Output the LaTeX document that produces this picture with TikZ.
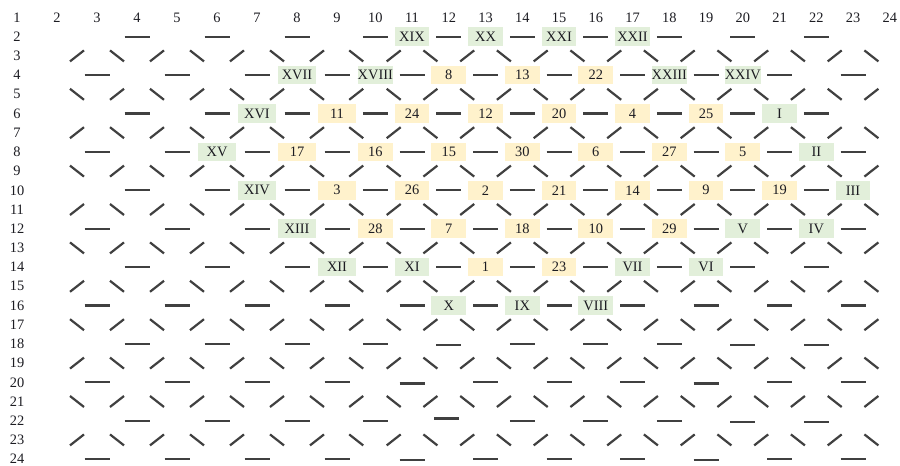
\documentclass[tikz,border=0pt]{standalone}
\usepackage{fontspec}
\setmainfont{Liberation Serif}
\usepackage{tikz}

\begin{document}
\begin{tikzpicture}[x=.5pt,y=-.5pt,
  lbl/.style={inner sep=0pt,outer sep=0pt,anchor=center,text={rgb,255:red,28;green,28;blue,34},font=\fontsize{7.2}{8.6}\selectfont},
  gcell/.style={lbl,fill={rgb,255:red,226;green,239;blue,218},minimum width=17.4pt,minimum height=9.3pt},
  ycell/.style={lbl,fill={rgb,255:red,255;green,242;blue,204},minimum width=17.4pt,minimum height=9.3pt},
  wide/.style={minimum width=19pt},
  glyph/.style={draw={rgb,255:red,64;green,64;blue,64},line width=1.1pt},
  bar/.pic={\draw[glyph] (-12.5,0) -- (12.5,0);},
  fwd/.pic={\draw[glyph] (-7,5.5) -- (7,-5.5);},
  bwd/.pic={\draw[glyph] (-7,-5.5) -- (7,5.5);}]
\path[use as bounding box] (0,0) rectangle (900,466);
\path[fill=white,draw=none] (0,0) rectangle (900,466);
\node[lbl] (h1) at (17,17.5) {1};
\node[lbl] (h2) at (57,17.5) {2};
\node[lbl] (h3) at (97,17.5) {3};
\node[lbl] (h4) at (137,17.5) {4};
\node[lbl] (h5) at (177,17.5) {5};
\node[lbl] (h6) at (217,17.5) {6};
\node[lbl] (h7) at (257,17.5) {7};
\node[lbl] (h8) at (297,17.5) {8};
\node[lbl] (h9) at (337,17.5) {9};
\node[lbl] (h10) at (375.3,17.5) {10};
\node[lbl] (h11) at (412,17.5) {11};
\node[lbl] (h12) at (448.8,17.5) {12};
\node[lbl] (h13) at (485.5,17.5) {13};
\node[lbl] (h14) at (522.3,17.5) {14};
\node[lbl] (h15) at (559,17.5) {15};
\node[lbl] (h16) at (595.8,17.5) {16};
\node[lbl] (h17) at (632.5,17.5) {17};
\node[lbl] (h18) at (669.3,17.5) {18};
\node[lbl] (h19) at (706,17.5) {19};
\node[lbl] (h20) at (742.8,17.5) {20};
\node[lbl] (h21) at (779.5,17.5) {21};
\node[lbl] (h22) at (816.3,17.5) {22};
\node[lbl] (h23) at (853,17.5) {23};
\node[lbl] (h24) at (889.8,17.5) {24};
\node[lbl] (v2) at (17,36.7) {2};
\node[lbl] (v3) at (17,55.9) {3};
\node[lbl] (v4) at (17,75.1) {4};
\node[lbl] (v5) at (17,94.3) {5};
\node[lbl] (v6) at (17,113.5) {6};
\node[lbl] (v7) at (17,132.7) {7};
\node[lbl] (v8) at (17,151.9) {8};
\node[lbl] (v9) at (17,171.1) {9};
\node[lbl] (v10) at (17,190.3) {10};
\node[lbl] (v11) at (17,209.5) {11};
\node[lbl] (v12) at (17,228.7) {12};
\node[lbl] (v13) at (17,247.9) {13};
\node[lbl] (v14) at (17,267.1) {14};
\node[lbl] (v15) at (17,286.3) {15};
\node[lbl] (v16) at (17,305.5) {16};
\node[lbl] (v17) at (17,324.7) {17};
\node[lbl] (v18) at (17,343.9) {18};
\node[lbl] (v19) at (17,363.1) {19};
\node[lbl] (v20) at (17,382.3) {20};
\node[lbl] (v21) at (17,401.5) {21};
\node[lbl] (v22) at (17,420.7) {22};
\node[lbl] (v23) at (17,439.9) {23};
\node[lbl] (v24) at (17,459.1) {24};
\path (137,36.7) pic{bar} (217,36.7) pic{bar} (297,36.7) pic{bar} (375.3,36.7) pic{bar} (448.8,36.7) pic{bar} (522.3,36.7) pic{bar} (595.8,36.7) pic{bar} (669.3,36.7) pic{bar} (742.8,36.7) pic{bar} (816.3,36.7) pic{bar};
\path (77,55.9) pic{fwd} (117,55.9) pic{bwd} (157,55.9) pic{fwd} (197,55.9) pic{bwd} (237,55.9) pic{fwd} (277,55.9) pic{bwd} (317,55.9) pic{fwd} (356.2,55.9) pic{bwd} (393.7,55.9) pic{fwd} (430.4,55.9) pic{bwd} (467.2,55.9) pic{fwd} (503.9,55.9) pic{bwd} (540.7,55.9) pic{fwd} (577.4,55.9) pic{bwd} (614.2,55.9) pic{fwd} (650.9,55.9) pic{bwd} (687.7,55.9) pic{fwd} (724.4,55.9) pic{bwd} (761.2,55.9) pic{fwd} (797.9,55.9) pic{bwd} (834.7,55.9) pic{fwd} (871.4,55.9) pic{bwd};
\path (97,75.1) pic{bar} (177,75.1) pic{bar} (257,75.1) pic{bar} (337,75.1) pic{bar} (412,75.1) pic{bar} (485.5,75.1) pic{bar} (559,75.1) pic{bar} (632.5,75.1) pic{bar} (706,75.1) pic{bar} (779.5,75.1) pic{bar} (853,75.1) pic{bar};
\path (77,94.3) pic{bwd} (117,94.3) pic{fwd} (157,94.3) pic{bwd} (197,94.3) pic{fwd} (237,94.3) pic{bwd} (277,94.3) pic{fwd} (317,94.3) pic{bwd} (356.2,94.3) pic{fwd} (393.7,94.3) pic{bwd} (430.4,94.3) pic{fwd} (467.2,94.3) pic{bwd} (503.9,94.3) pic{fwd} (540.7,94.3) pic{bwd} (577.4,94.3) pic{fwd} (614.2,94.3) pic{bwd} (650.9,94.3) pic{fwd} (687.7,94.3) pic{bwd} (724.4,94.3) pic{fwd} (761.2,94.3) pic{bwd} (797.9,94.3) pic{fwd} (834.7,94.3) pic{bwd} (871.4,94.3) pic{fwd};
\path (137,113.5) pic{bar} (217,113.5) pic{bar} (297,113.5) pic{bar} (375.3,113.5) pic{bar} (448.8,113.5) pic{bar} (522.3,113.5) pic{bar} (595.8,113.5) pic{bar} (669.3,113.5) pic{bar} (742.8,113.5) pic{bar} (816.3,113.5) pic{bar};
\path (77,132.7) pic{fwd} (117,132.7) pic{bwd} (157,132.7) pic{fwd} (197,132.7) pic{bwd} (237,132.7) pic{fwd} (277,132.7) pic{bwd} (317,132.7) pic{fwd} (356.2,132.7) pic{bwd} (393.7,132.7) pic{fwd} (430.4,132.7) pic{bwd} (467.2,132.7) pic{fwd} (503.9,132.7) pic{bwd} (540.7,132.7) pic{fwd} (577.4,132.7) pic{bwd} (614.2,132.7) pic{fwd} (650.9,132.7) pic{bwd} (687.7,132.7) pic{fwd} (724.4,132.7) pic{bwd} (761.2,132.7) pic{fwd} (797.9,132.7) pic{bwd} (834.7,132.7) pic{fwd} (871.4,132.7) pic{bwd};
\path (97,151.9) pic{bar} (177,151.9) pic{bar} (257,151.9) pic{bar} (337,151.9) pic{bar} (412,151.9) pic{bar} (485.5,151.9) pic{bar} (559,151.9) pic{bar} (632.5,151.9) pic{bar} (706,151.9) pic{bar} (779.5,151.9) pic{bar} (853,151.9) pic{bar};
\path (77,171.1) pic{bwd} (117,171.1) pic{fwd} (157,171.1) pic{bwd} (197,171.1) pic{fwd} (237,171.1) pic{bwd} (277,171.1) pic{fwd} (317,171.1) pic{bwd} (356.2,171.1) pic{fwd} (393.7,171.1) pic{bwd} (430.4,171.1) pic{fwd} (467.2,171.1) pic{bwd} (503.9,171.1) pic{fwd} (540.7,171.1) pic{bwd} (577.4,171.1) pic{fwd} (614.2,171.1) pic{bwd} (650.9,171.1) pic{fwd} (687.7,171.1) pic{bwd} (724.4,171.1) pic{fwd} (761.2,171.1) pic{bwd} (797.9,171.1) pic{fwd} (834.7,171.1) pic{bwd} (871.4,171.1) pic{fwd};
\path (137,190.3) pic{bar} (217,190.3) pic{bar} (297,190.3) pic{bar} (375.3,190.3) pic{bar} (448.8,190.3) pic{bar} (522.3,190.3) pic{bar} (595.8,190.3) pic{bar} (669.3,190.3) pic{bar} (742.8,190.3) pic{bar} (816.3,190.3) pic{bar};
\path (77,209.5) pic{fwd} (117,209.5) pic{bwd} (157,209.5) pic{fwd} (197,209.5) pic{bwd} (237,209.5) pic{fwd} (277,209.5) pic{bwd} (317,209.5) pic{fwd} (356.2,209.5) pic{bwd} (393.7,209.5) pic{fwd} (430.4,209.5) pic{bwd} (467.2,209.5) pic{fwd} (503.9,209.5) pic{bwd} (540.7,209.5) pic{fwd} (577.4,209.5) pic{bwd} (614.2,209.5) pic{fwd} (650.9,209.5) pic{bwd} (687.7,209.5) pic{fwd} (724.4,209.5) pic{bwd} (761.2,209.5) pic{fwd} (797.9,209.5) pic{bwd} (834.7,209.5) pic{fwd} (871.4,209.5) pic{bwd};
\path (97,228.7) pic{bar} (177,228.7) pic{bar} (257,228.7) pic{bar} (337,228.7) pic{bar} (412,228.7) pic{bar} (485.5,228.7) pic{bar} (559,228.7) pic{bar} (632.5,228.7) pic{bar} (706,228.7) pic{bar} (779.5,228.7) pic{bar} (853,228.7) pic{bar};
\path (77,247.9) pic{bwd} (117,247.9) pic{fwd} (157,247.9) pic{bwd} (197,247.9) pic{fwd} (237,247.9) pic{bwd} (277,247.9) pic{fwd} (317,247.9) pic{bwd} (356.2,247.9) pic{fwd} (393.7,247.9) pic{bwd} (430.4,247.9) pic{fwd} (467.2,247.9) pic{bwd} (503.9,247.9) pic{fwd} (540.7,247.9) pic{bwd} (577.4,247.9) pic{fwd} (614.2,247.9) pic{bwd} (650.9,247.9) pic{fwd} (687.7,247.9) pic{bwd} (724.4,247.9) pic{fwd} (761.2,247.9) pic{bwd} (797.9,247.9) pic{fwd} (834.7,247.9) pic{bwd} (871.4,247.9) pic{fwd};
\path (137,267.1) pic{bar} (217,267.1) pic{bar} (297,267.1) pic{bar} (375.3,267.1) pic{bar} (448.8,267.1) pic{bar} (522.3,267.1) pic{bar} (595.8,267.1) pic{bar} (669.3,267.1) pic{bar} (742.8,267.1) pic{bar} (816.3,267.1) pic{bar};
\path (77,286.3) pic{fwd} (117,286.3) pic{bwd} (157,286.3) pic{fwd} (197,286.3) pic{bwd} (237,286.3) pic{fwd} (277,286.3) pic{bwd} (317,286.3) pic{fwd} (356.2,286.3) pic{bwd} (393.7,286.3) pic{fwd} (430.4,286.3) pic{bwd} (467.2,286.3) pic{fwd} (503.9,286.3) pic{bwd} (540.7,286.3) pic{fwd} (577.4,286.3) pic{bwd} (614.2,286.3) pic{fwd} (650.9,286.3) pic{bwd} (687.7,286.3) pic{fwd} (724.4,286.3) pic{bwd} (761.2,286.3) pic{fwd} (797.9,286.3) pic{bwd} (834.7,286.3) pic{fwd} (871.4,286.3) pic{bwd};
\path (97,305.5) pic{bar} (177,305.5) pic{bar} (257,305.5) pic{bar} (337,305.5) pic{bar} (412,305.5) pic{bar} (485.5,305.5) pic{bar} (559,305.5) pic{bar} (632.5,305.5) pic{bar} (706,305.5) pic{bar} (779.5,305.5) pic{bar} (853,305.5) pic{bar};
\path (77,324.7) pic{bwd} (117,324.7) pic{fwd} (157,324.7) pic{bwd} (197,324.7) pic{fwd} (237,324.7) pic{bwd} (277,324.7) pic{fwd} (317,324.7) pic{bwd} (356.2,324.7) pic{fwd} (393.7,324.7) pic{bwd} (430.4,324.7) pic{fwd} (467.2,324.7) pic{bwd} (503.9,324.7) pic{fwd} (540.7,324.7) pic{bwd} (577.4,324.7) pic{fwd} (614.2,324.7) pic{bwd} (650.9,324.7) pic{fwd} (687.7,324.7) pic{bwd} (724.4,324.7) pic{fwd} (761.2,324.7) pic{bwd} (797.9,324.7) pic{fwd} (834.7,324.7) pic{bwd} (871.4,324.7) pic{fwd};
\path (137,343.9) pic{bar} (217,343.9) pic{bar} (297,343.9) pic{bar} (375.3,343.9) pic{bar} (448.8,345) pic{bar} (522.3,343.9) pic{bar} (595.8,343.9) pic{bar} (669.3,343.9) pic{bar} (742.8,345) pic{bar} (816.3,345) pic{bar};
\path (77,363.1) pic{fwd} (117,363.1) pic{bwd} (157,363.1) pic{fwd} (197,363.1) pic{bwd} (237,363.1) pic{fwd} (277,363.1) pic{bwd} (317,363.1) pic{fwd} (356.2,363.1) pic{bwd} (393.7,363.1) pic{fwd} (430.4,363.1) pic{bwd} (467.2,363.1) pic{fwd} (503.9,363.1) pic{bwd} (540.7,363.1) pic{fwd} (577.4,363.1) pic{bwd} (614.2,363.1) pic{fwd} (650.9,363.1) pic{bwd} (687.7,363.1) pic{fwd} (724.4,363.1) pic{bwd} (761.2,363.1) pic{fwd} (797.9,363.1) pic{bwd} (834.7,363.1) pic{fwd} (871.4,363.1) pic{bwd};
\path (97,382.3) pic{bar} (177,382.3) pic{bar} (257,382.3) pic{bar} (337,382.3) pic{bar} (412,383.5) pic{bar} (485.5,382.3) pic{bar} (559,382.3) pic{bar} (632.5,382.3) pic{bar} (706,383.5) pic{bar} (779.5,382.3) pic{bar} (853,382.3) pic{bar};
\path (77,401.5) pic{bwd} (117,401.5) pic{fwd} (157,401.5) pic{bwd} (197,401.5) pic{fwd} (237,401.5) pic{bwd} (277,401.5) pic{fwd} (317,401.5) pic{bwd} (356.2,401.5) pic{fwd} (393.7,401.5) pic{bwd} (430.4,401.5) pic{fwd} (467.2,401.5) pic{bwd} (503.9,401.5) pic{fwd} (540.7,401.5) pic{bwd} (577.4,401.5) pic{fwd} (614.2,401.5) pic{bwd} (650.9,401.5) pic{fwd} (687.7,401.5) pic{bwd} (724.4,401.5) pic{fwd} (761.2,401.5) pic{bwd} (797.9,401.5) pic{fwd} (834.7,401.5) pic{bwd} (871.4,401.5) pic{fwd};
\path (137,420.7) pic{bar} (217,420.7) pic{bar} (297,420.7) pic{bar} (375.3,420.7) pic{bar} (446.5,418.5) pic{bar} (522.3,420.7) pic{bar} (595.8,420.7) pic{bar} (669.3,420.7) pic{bar} (742.8,421.8) pic{bar} (816.3,421.8) pic{bar};
\path (77,439.9) pic{fwd} (117,439.9) pic{bwd} (157,439.9) pic{fwd} (197,439.9) pic{bwd} (237,439.9) pic{fwd} (277,439.9) pic{bwd} (317,439.9) pic{fwd} (356.2,439.9) pic{bwd} (393.7,439.9) pic{fwd} (430.4,439.9) pic{bwd} (467.2,439.9) pic{fwd} (503.9,439.9) pic{bwd} (540.7,439.9) pic{fwd} (577.4,439.9) pic{bwd} (614.2,439.9) pic{fwd} (650.9,439.9) pic{bwd} (687.7,439.9) pic{fwd} (724.4,439.9) pic{bwd} (761.2,439.9) pic{fwd} (797.9,439.9) pic{bwd} (834.7,439.9) pic{fwd} (871.4,439.9) pic{bwd};
\path (97,459.1) pic{bar} (177,459.1) pic{bar} (257,459.1) pic{bar} (337,459.1) pic{bar} (412,460.3) pic{bar} (485.5,459.1) pic{bar} (559,459.1) pic{bar} (632.5,459.1) pic{bar} (706,460.3) pic{bar} (779.5,459.1) pic{bar} (853,459.1) pic{bar};
\node[gcell] (xix) at (412,36.7) {XIX};
\node[gcell] (xx) at (485.5,36.7) {XX};
\node[gcell] (xxi) at (559,36.7) {XXI};
\node[gcell] (xxii) at (632.5,36.7) {XXII};
\node[gcell,wide] (xvii) at (297,75.1) {XVII};
\node[gcell] (xviii) at (375.3,75.1) {XVIII};
\node[ycell] (n8) at (448.8,75.1) {8};
\node[ycell] (n13) at (522.3,75.1) {13};
\node[ycell] (n22) at (595.8,75.1) {22};
\node[gcell] (xxiii) at (669.3,75.1) {XXIII};
\node[gcell] (xxiv) at (742.8,75.1) {XXIV};
\node[gcell,wide] (xvi) at (257,113.5) {XVI};
\node[ycell,wide] (n11) at (337,113.5) {11};
\node[ycell] (n24) at (412,113.5) {24};
\node[ycell] (n12) at (485.5,113.5) {12};
\node[ycell] (n20) at (559,113.5) {20};
\node[ycell] (n4) at (632.5,113.5) {4};
\node[ycell] (n25) at (706,113.5) {25};
\node[gcell] (i) at (779.5,113.5) {I};
\node[gcell,wide] (xv) at (217,151.9) {XV};
\node[ycell,wide] (n17) at (297,151.9) {17};
\node[ycell] (n16) at (375.3,151.9) {16};
\node[ycell] (n15) at (448.8,151.9) {15};
\node[ycell] (n30) at (522.3,151.9) {30};
\node[ycell] (n6) at (595.8,151.9) {6};
\node[ycell] (n27) at (669.3,151.9) {27};
\node[ycell] (n5) at (742.8,151.9) {5};
\node[gcell] (ii) at (816.3,151.9) {II};
\node[gcell,wide] (xiv) at (257,190.3) {XIV};
\node[ycell,wide] (n3) at (337,190.3) {3};
\node[ycell] (n26) at (412,190.3) {26};
\node[ycell] (n2) at (485.5,190.3) {2};
\node[ycell] (n21) at (559,190.3) {21};
\node[ycell] (n14) at (632.5,190.3) {14};
\node[ycell] (n9) at (706,190.3) {9};
\node[ycell] (n19) at (779.5,190.3) {19};
\node[gcell] (iii) at (853,190.3) {III};
\node[gcell,wide] (xiii) at (297,228.7) {XIII};
\node[ycell] (n28) at (375.3,228.7) {28};
\node[ycell] (n7) at (448.8,228.7) {7};
\node[ycell] (n18) at (522.3,228.7) {18};
\node[ycell] (n10) at (595.8,228.7) {10};
\node[ycell] (n29) at (669.3,228.7) {29};
\node[gcell] (v) at (742.8,228.7) {V};
\node[gcell] (iv) at (816.3,228.7) {IV};
\node[gcell,wide] (xii) at (337,267.1) {XII};
\node[gcell] (xi) at (412,267.1) {XI};
\node[ycell] (n1) at (485.5,267.1) {1};
\node[ycell] (n23) at (559,267.1) {23};
\node[gcell] (vii) at (632.5,267.1) {VII};
\node[gcell] (vi) at (706,267.1) {VI};
\node[gcell] (x) at (448.8,305.5) {X};
\node[gcell] (ix) at (522.3,305.5) {IX};
\node[gcell] (viii) at (595.8,305.5) {VIII};
\end{tikzpicture}
\end{document}
